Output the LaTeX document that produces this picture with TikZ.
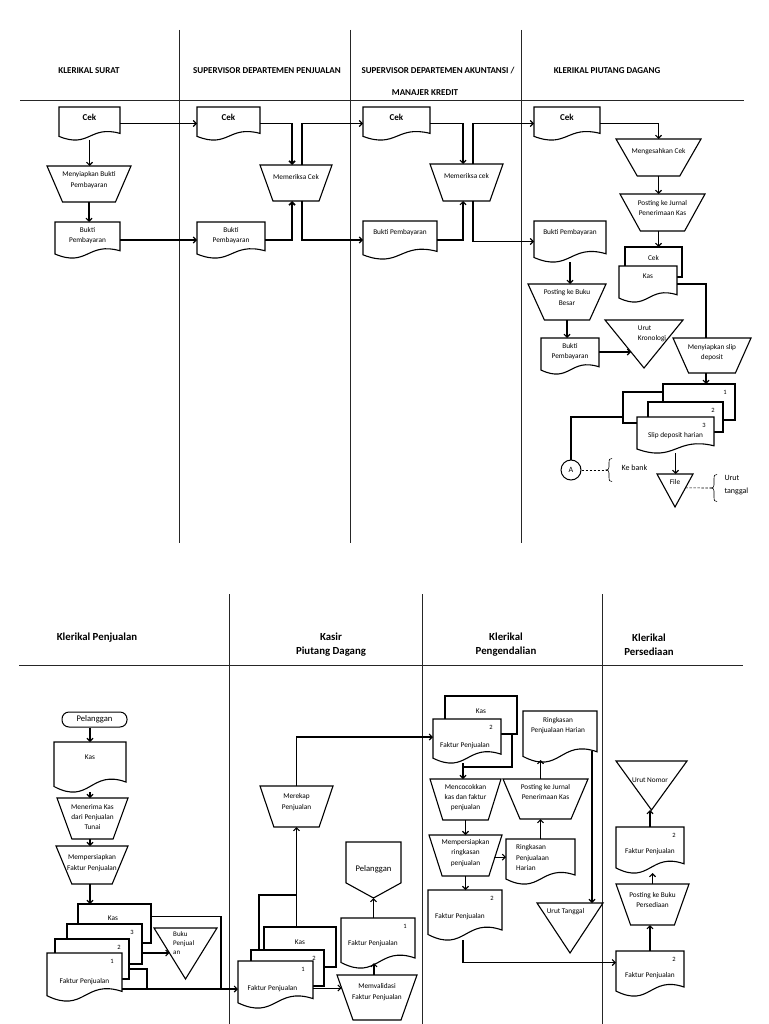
\documentclass[tikz,border=0pt]{standalone}
\usepackage{fontspec}
\setmainfont{Carlito}
\usetikzlibrary{arrows.meta,calc}

\makeatletter
\newdimen\rsXa \newdimen\rsXb \newdimen\rsYa \newdimen\rsYb
\newdimen\rsW \newdimen\rsH \newdimen\rsL \newdimen\rsM \newdimen\rsT \newdimen\rsU \newdimen\rsV
\def\rstrapinset{0.2}
\def\rsofftip{0.27}
\def\rs@inh{%
  \inheritsavedanchors[from=rectangle]%
  \inheritanchorborder[from=rectangle]%
  \inheritanchor[from=rectangle]{center}%
  \inheritanchor[from=rectangle]{mid}%
  \inheritanchor[from=rectangle]{base}%
  \inheritanchor[from=rectangle]{text}%
  \inheritanchor[from=rectangle]{north}%
  \inheritanchor[from=rectangle]{south}%
  \inheritanchor[from=rectangle]{east}%
  \inheritanchor[from=rectangle]{west}%
  \inheritanchor[from=rectangle]{north east}%
  \inheritanchor[from=rectangle]{north west}%
  \inheritanchor[from=rectangle]{south east}%
  \inheritanchor[from=rectangle]{south west}%
}
\def\rs@box{%
  \southwest \rsXa=\pgf@x \rsYa=\pgf@y
  \northeast \rsXb=\pgf@x \rsYb=\pgf@y
  \rsW=\rsXb \advance\rsW by -\rsXa
  \rsH=\rsYb \advance\rsH by -\rsYa
  \rsM=\rsXa \advance\rsM by 0.5\rsW
}
\pgfdeclareshape{document}{%
  \rs@inh
  \backgroundpath{%
    \rs@box
    \rsL=\rsYa \advance\rsL by 0.11\rsH
    \rsT=\rsYa \advance\rsT by 0.2\rsH
    \rsU=\rsYa \advance\rsU by 0.46\rsH
    \rsV=\rsYa \advance\rsV by -0.27\rsH
    \pgfpathmoveto{\pgfqpoint{\rsXa}{\rsYb}}%
    \pgfpathlineto{\pgfqpoint{\rsXb}{\rsYb}}%
    \pgfpathlineto{\pgfqpoint{\rsXb}{\rsT}}%
    \pgfpathcurveto{\pgfqpoint{\rsM}{\rsU}}{\pgfqpoint{\rsM}{\rsV}}{\pgfqpoint{\rsXa}{\rsL}}%
    \pgfpathclose
  }%
}
\pgfdeclareshape{manop}{%
  \rs@inh
  \backgroundpath{%
    \rs@box
    \rsT=\rstrapinset\rsW
    \rsL=\rsXa \advance\rsL by \rsT
    \rsU=\rsXb \advance\rsU by -\rsT
    \pgfpathmoveto{\pgfqpoint{\rsXa}{\rsYb}}%
    \pgfpathlineto{\pgfqpoint{\rsXb}{\rsYb}}%
    \pgfpathlineto{\pgfqpoint{\rsU}{\rsYa}}%
    \pgfpathlineto{\pgfqpoint{\rsL}{\rsYa}}%
    \pgfpathclose
  }%
}
\pgfdeclareshape{filetri}{%
  \rs@inh
  \backgroundpath{%
    \rs@box
    \pgfpathmoveto{\pgfqpoint{\rsXa}{\rsYb}}%
    \pgfpathlineto{\pgfqpoint{\rsXb}{\rsYb}}%
    \pgfpathlineto{\pgfqpoint{\rsM}{\rsYa}}%
    \pgfpathclose
  }%
}
\pgfdeclareshape{offpage}{%
  \rs@inh
  \backgroundpath{%
    \rs@box
    \rsT=\rsYa \advance\rsT by \rsofftip\rsH
    \pgfpathmoveto{\pgfqpoint{\rsXa}{\rsYb}}%
    \pgfpathlineto{\pgfqpoint{\rsXb}{\rsYb}}%
    \pgfpathlineto{\pgfqpoint{\rsXb}{\rsT}}%
    \pgfpathlineto{\pgfqpoint{\rsM}{\rsYa}}%
    \pgfpathlineto{\pgfqpoint{\rsXa}{\rsT}}%
    \pgfpathclose
  }%
}
\makeatother

\newcommand\fsS{\fontsize{7.3}{10.3}\selectfont}
\newcommand\fsN{\fontsize{6.5}{7}\selectfont}
\newcommand\fsH{\fontsize{9}{11}\selectfont\bfseries}
\newcommand\fsB{\fontsize{10.8}{14}\selectfont\bfseries}
\newcommand\fsC{\fontsize{9}{10}\selectfont\bfseries}
\newcommand\fsP{\fontsize{8.6}{10}\selectfont}
\newcommand\fsK{\fontsize{8}{13}\selectfont}

\tikzset{
  trapinset/.code={\def\rstrapinset{#1}},
  base/.style={draw, fill=white, line width=1.1pt, outer sep=0pt, inner sep=0pt},
  doc/.style={base, shape=document},
  bdoc/.style={base, shape=rectangle},
  proc/.style={base, shape=manop},
  tri/.style={base, shape=filetri},
  offp/.style={base, shape=offpage},
  sz/.style 2 args={minimum width=#1, minimum height=#2},
  txt/.style={font=\fsS, align=center, inner sep=0pt},
  t/.style n args={3}{label={[txt,xshift=#1,yshift=#2]center:#3}},
  num/.style={label={[txt,font=\fsN,anchor=center,xshift=-10pt,yshift=-8.5pt]north east:#1}},
  cek/.style={t={0pt}{6.5pt}{\fsC Cek}},
  conn/.style={line width=1.1pt},
  arr/.style={conn,-{Straight Barb[length=3pt,width=6pt]}},
  lane/.style={line width=0.8pt, draw=black!85},
  dsh/.style={line width=0.6pt, dash pattern=on 2.5pt off 1.5pt},
  brc/.style={line width=0.6pt},
}
\newcommand\rsbrace[2]{\draw[brc, shift={(#1)}] (6,-#2) .. controls (3,-#2) and (3,-#2+1) .. (3,-#2+4) -- (3,-3) .. controls (3,-1) and (2,0) .. (0,0) .. controls (2,0) and (3,1) .. (3,3) -- (3,#2-4) .. controls (3,#2-1) and (3,#2) .. (6,#2);}

\begin{document}
\begin{tikzpicture}[x=1pt,y=-1pt]
\fill[white] (0,0) rectangle (768,1024);
\useasboundingbox (0,0) rectangle (768,1024);

%================ TOP ================
\draw[lane] (179,30) -- (179,543);
\draw[lane] (350,30) -- (350,543);
\draw[lane] (521,30) -- (521,543);
\draw[lane] (20,100) -- (744,100);
\node[font=\fsH] (hA) at (89,71) {KLERIKAL SURAT};
\node[font=\fsH] (hB) at (267,71) {SUPERVISOR DEPARTEMEN PENJUALAN};
\node[font=\fsH] (hC) at (438,71) {SUPERVISOR DEPARTEMEN AKUNTANSI /};
\node[font=\fsH] (hC2) at (425,93) {MANAJER KREDIT};
\node[font=\fsH] (hD) at (607,71) {KLERIKAL PIUTANG DAGANG};

% lane 1
\node[doc, sz={61}{33}, cek] (cekA) at (89.5,123.5) {};
\node[proc, sz={84}{36}, trapinset=0.185, t={0pt}{4pt}{Menyiapkan Bukti\\Pembayaran}] (siapA) at (89,184) {};
\node[doc, sz={65}{36}, t={0pt}{4.5pt}{Bukti\\Pembayaran}] (buktiA) at (87.5,240) {};
% lane 2
\node[doc, sz={63}{33}, cek] (cekB) at (228.5,123.5) {};
\node[doc, sz={68}{36}, t={0pt}{4.5pt}{Bukti\\Pembayaran}] (buktiB) at (231,240) {};
\node[proc, sz={72}{36}, trapinset=0.18, t={0pt}{6pt}{Memeriksa Cek}] (periksaB) at (296,183) {};
% lane 3
\node[doc, sz={67}{33}, cek] (cekC) at (396.5,123.5) {};
\node[doc, sz={74}{38}, t={0pt}{7pt}{Bukti Pembayaran}] (buktiC) at (400,240) {};
\node[proc, sz={73}{37}, trapinset=0.18, t={0pt}{6.5pt}{Memeriksa cek}] (periksaC) at (466.5,182.5) {};
% lane 4
\node[doc, sz={66}{33}, cek] (cekD) at (567,123.5) {};
\node[proc, sz={85}{37}, trapinset=0.25, t={0pt}{5.5pt}{Mengesahkan Cek}] (sahkan) at (658.5,157.5) {};
\node[proc, sz={85}{37}, trapinset=0.24, t={0pt}{4.5pt}{Posting ke Jurnal\\Penerimaan Kas}] (jurnalD) at (662.5,212.5) {};
\node[bdoc, sz={57}{30}, t={0pt}{4pt}{Cek}] (cekE) at (653.5,262) {};
\node[doc, sz={58}{36}, t={0pt}{8pt}{Kas}] (kasE) at (648,284) {};
\node[doc, sz={72}{41}, t={0pt}{8.5pt}{Bukti Pembayaran}] (buktiD) at (570,241.5) {};
\node[proc, sz={78}{36}, trapinset=0.21, t={0pt}{4.5pt}{Posting ke Buku\\Besar}] (bukuB) at (567,302) {};
\node[doc, sz={58}{36}, t={0pt}{4.5pt}{Bukti\\Pembayaran}] (buktiE) at (570,356) {};
\node[tri, sz={78}{48}, label={[txt,align=left,xshift=8pt,yshift=10pt]center:Urut\\Kronologi}] (kron) at (644,344) {};
\node[proc, sz={78}{35}, trapinset=0.2, t={0pt}{3pt}{Menyiapkan slip\\deposit}] (slipdep) at (712,355.5) {};
\node[bdoc, sz={77}{31}] (slip0) at (661.5,407.5) {};
\node[bdoc, sz={72}{36}, num=1] (slip1) at (699,402) {};
\node[bdoc, sz={75}{30}, num=2] (slip2) at (685.5,417) {};
\node[doc, sz={77}{36}, num=3, t={0pt}{-1pt}{Slip deposit harian}] (slip3) at (675.5,435) {};
\node[tri, sz={36}{33}, t={0pt}{8.5pt}{File}] (file) at (675,490.5) {};
\node[circle, draw, fill=white, line width=1pt, minimum size=20pt, inner sep=0pt, font=\fontsize{8}{9}\selectfont] (circA) at (571,470) {A};
\node[font=\fsK, anchor=west] (kebank) at (618,468) {Ke bank};
\node[font=\fsK, anchor=west, align=left] (uruttgl) at (721,485) {Urut\\tanggal};

% top connectors
\draw[arr] (cekA.south) -- (cekA.south |- siapA.north);
\draw[arr] (siapA.south) -- (siapA.south |- buktiA.north);
\draw[arr] (cekA.east) -- (cekB.west);
\draw[arr] (buktiA.east) -- (buktiB.west);
\draw[arr, line width=1.6pt] (cekB.east) -| ([xshift=-4pt]periksaB.north);
\draw[arr, line width=1.6pt] (buktiB.east) -| ([xshift=-4pt]periksaB.south);
\draw[arr] ([xshift=6pt]periksaB.north) |- (cekC.west);
\draw[arr] ([xshift=6pt]periksaB.south) |- (buktiC.west);
\draw[arr] (cekC.east) -| ([xshift=-3.5pt]periksaC.north);
\draw[arr] (buktiC.east) -| ([xshift=-3.5pt]periksaC.south);
\draw[arr] ([xshift=6.5pt]periksaC.north) |- (cekD.west);
\draw[arr] ([xshift=6.5pt]periksaC.south) |- (buktiD.west);
\draw[arr] (cekD.east) -| (sahkan.north);
\draw[arr] (sahkan.south) -- (sahkan.south |- jurnalD.north);
\draw[arr] (sahkan.south |- jurnalD.south) -- (sahkan.south |- cekE.north);
\draw[conn] (kasE.east) -| ([xshift=-6pt]slipdep.north);
\draw[arr] ([xshift=-6pt]slipdep.south) -- ([xshift=-6pt]slipdep.south |- slip1.north);
\draw[arr] (buktiD.south) -- (buktiD.south |- bukuB.north);
\draw[arr] (bukuB.south) -- (bukuB.south |- buktiE.north);
\coordinate (kronhit) at ($(kron.north west)!0.667!(kron.south)$);
\draw[arr] (buktiE.east |- kronhit) -- (kronhit);
\draw[conn] (circA.north) |- ([yshift=6pt]slip0.south west);
\draw[arr] (slip3.south) -- (slip3.south |- file.north);
\coordinate (brA) at (606,470);
\draw[dsh] (circA.east) -- (brA);
\rsbrace{brA}{11.5}
\coordinate (filehit) at ($(file.north east)!0.42!(file.south)$);
\coordinate (brB) at (711,488);
\draw[dsh] (filehit) -- (brB);
\rsbrace{brB}{13.5}

%================ BOTTOM ================
\draw[lane] (229,594) -- (229,1024);
\draw[lane] (422,594) -- (422,1024);
\draw[lane] (602,594) -- (602,1024);
\draw[lane] (19,665) -- (743,665);
\node[font=\fsB] (hE) at (97,638) {Klerikal Penjualan};
\node[font=\fsB, align=center] (hF) at (331,645) {Kasir\\Piutang Dagang};
\node[font=\fsB, align=center] (hG) at (506,645) {Klerikal\\Pengendalian};
\node[font=\fsB, align=center] (hH) at (649,645) {Klerikal\\Persediaan};

% lane 1
\node[draw, fill=white, rounded corners=7pt, line width=1pt, sz={65}{15}, inner sep=0pt, font=\fsP] (pel) at (94.5,719.5) {Pelanggan};
\node[doc, sz={72}{50}, t={0pt}{10pt}{Kas}] (kasL) at (90,767) {};
\node[proc, sz={71}{41}, trapinset=0.21, t={0pt}{1.5pt}{Menerima Kas\\dari Penjualan\\Tunai}] (terima) at (92.5,818.5) {};
\node[proc, sz={72}{38}, trapinset=0.22, t={0pt}{2pt}{Mempersiapkan\\Faktur Penjualan}] (siapF) at (92,865) {};
\node[bdoc, sz={73}{39}, t={-1.5pt}{5.5pt}{Kas}] (kasS) at (114.5,923.5) {};
\node[bdoc, sz={75}{40}, num=3] (f3) at (104.5,944) {};
\node[bdoc, sz={74}{40}, num=2] (f2) at (92,959) {};
\node[doc, sz={75}{48}, num=1, t={0pt}{-5pt}{Faktur Penjualan}] (f1) at (84.5,977) {};
\node[tri, sz={63}{51}] (buku) at (185.5,953.5) {};
\node[font=\fontsize{7}{9}\selectfont, align=left, anchor=west, inner sep=0pt] (bukuT) at (173,943) {Buku\\Penjual\\an};

% lane 2
\node[bdoc, sz={72}{40}, t={0pt}{4.5pt}{Kas}] (kasK) at (300,947) {};
\node[bdoc, sz={73}{36}, num=2] (fk2) at (287.5,968) {};
\node[doc, sz={75}{47}, num=1, t={-3pt}{-4pt}{Faktur Penjualan}] (fkA) at (275.5,984.5) {};
\node[proc, sz={73}{41}, trapinset=0.19, t={0pt}{4.5pt}{Merekap\\Penjualan}] (rekap) at (296.5,806.5) {};
\node[proc, sz={80}{45}, trapinset=0.2, t={0pt}{5.5pt}{Memvalidasi\\Faktur Penjualan}] (valid) at (377,997.5) {};
\node[doc, sz={74}{50}, num=1, t={-5pt}{-1pt}{Faktur Penjualan}] (fkB) at (378,943) {};
\node[offp, sz={55}{56}, t={0pt}{1pt}{\fsP Pelanggan}] (pelO) at (373.5,870) {};

% lane 3
\node[bdoc, sz={72}{38}, t={0pt}{4pt}{Kas}] (kasC) at (481,715) {};
\node[doc, sz={68}{44}, num=2, t={-2pt}{-5pt}{Faktur Penjualan}] (fkC) at (467,741) {};
\node[proc, sz={71}{41}, trapinset=0.18, t={0pt}{2pt}{Mencocokkan\\kas dan faktur\\penjualan}] (cocok) at (465.5,799.5) {};
\node[proc, sz={73}{41}, trapinset=0.18, t={0pt}{2.5pt}{Mempersiapkan\\ringkasan\\penjualan}] (ringk) at (465.5,855.5) {};
\node[doc, sz={69}{45}, label={[txt,align=left,xshift=-8pt,yshift=4pt]center:Ringkasan\\Penjualaan\\Harian}] (rphA) at (540.5,861.5) {};
\node[proc, sz={85}{40}, trapinset=0.2, t={0pt}{7pt}{Posting ke Jurnal\\Penerimaan Kas}] (jurnalB) at (545.5,799) {};
\node[doc, sz={74}{51}, t={-2pt}{11pt}{Ringkasan\\Penjualaan Harian}] (rphB) at (560,736.5) {};
\node[tri, sz={66}{50}, t={-4.5pt}{16pt}{Urut Tanggal}] (urutT) at (570,928) {};
\node[doc, sz={74}{50}, num=2, t={-5pt}{-2pt}{Faktur Penjualan}] (fkD) at (465,915) {};

% lane 4
\node[tri, sz={71}{49}, t={-1.5pt}{5.5pt}{Urut Nomor}] (urutN) at (651.5,785.5) {};
\node[doc, sz={68}{46}, num=2, t={0pt}{-2pt}{Faktur Penjualan}] (fkP1) at (650,850) {};
\node[proc, sz={73}{41}, trapinset=0.2, t={0pt}{4.5pt}{Posting ke Buku\\Persediaan}] (persed) at (652.5,904.5) {};
\node[doc, sz={68}{45}, num=2, t={0pt}{-2.5pt}{Faktur Penjualan}] (fkP2) at (650,973.5) {};

% bottom connectors
\draw[arr] (kasL.north |- pel.south) -- (kasL.north);
\draw[arr] (kasL.south) -- (kasL.south |- terima.north);
\draw[arr] (kasL.south |- terima.south) -- (kasL.south |- siapF.north);
\draw[arr] (kasL.south |- siapF.south) -- (kasL.south |- kasS.north);
\coordinate (bukuhit) at ($(buku.north west)!0.49!(buku.south)$);
\draw[arr] (f3.east |- bukuhit) -- (bukuhit);
\coordinate (flowA) at ([yshift=-12pt]f1.east);
\coordinate (joinA) at ($(flowA -| buku.north east)+(4,0)$);
\draw[arr] (flowA) -- (flowA -| fkA.west);
\draw[conn] ([yshift=7pt]kasS.east) -| (joinA);
\draw[conn] ([yshift=-10pt]f2.east) -- ++(18,0) -- ++(0,20);

\draw[arr] (kasK.north -| rekap.south) -- (rekap.south);
\draw[conn, line width=1.8pt] ([xshift=8pt]fk2.north west) -- ++(0,-55) -| (kasK.north -| rekap.south);
\draw[arr] (rekap.north) |- ([yshift=4pt]fkC.west);
\coordinate (validbl) at ($(valid.south west)+(16,0)$);
\coordinate (validhit) at ($(valid.north west)!0.29!(validbl)$);
\draw[arr] (fkA.east |- validhit) -- (validhit);
\coordinate (fkBbot) at ($(fkB.south)+(-4,-5)$);
\draw[arr] (fkBbot |- valid.north) -- (fkBbot);
\draw[arr] (fkB.north -| pelO.south) -- (pelO.south);

\draw[conn] ([xshift=-5pt]kasC.south east) -- ++(0,33) -| ([xshift=-4pt]fkC.south);
\draw[arr] ([xshift=-4pt]fkC.south) -- ([xshift=-4pt]fkC.south |- cocok.north);
\draw[arr] (cocok.south) -- (cocok.south |- ringk.north);
\draw[arr] (ringk.south) -- (ringk.south |- fkD.north);
\coordinate (ringkbr) at ($(ringk.south east)+(-14.6,0)$);
\coordinate (ringkhit) at ($(ringk.north east)!0.54!(ringkbr)$);
\draw[arr] (ringkhit) -- (ringkhit -| rphA.west);
\draw[arr] (rphA.north) -- (rphA.north |- jurnalB.south);
\coordinate (rphBbot) at ($(rphA.north |- rphB.south)+(0,-2)$);
\draw[arr] (rphA.north |- jurnalB.north) -- (rphBbot);
\coordinate (rphBout) at ($(rphB.south east)+(-5,-11)$);
\draw[arr] (rphBout) -- (rphBout |- urutT.north);
\draw[arr] ([xshift=-2pt]fkD.south) |- ([yshift=11pt]fkP2.west);

\draw[arr] (fkP1.north) -- (fkP1.north |- urutN.south);
\draw[arr] (persed.north) -- (persed.north |- fkP1.south);
\draw[arr] (fkP2.north) -- (fkP2.north |- persed.south);
\end{tikzpicture}
\end{document}
